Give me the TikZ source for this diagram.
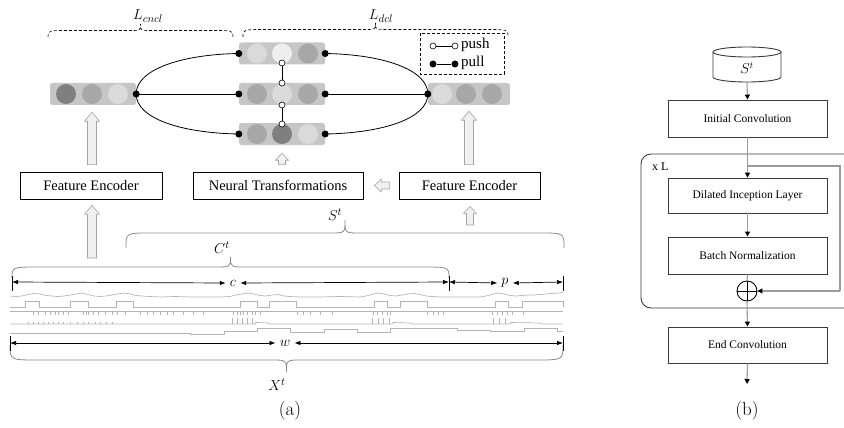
\documentclass[tikz,border=0pt]{standalone}
\usepackage{fontspec}
\newfontfamily\tnr{Liberation Serif}
\usetikzlibrary{arrows.meta,calc}

\definecolor{vecbg}{HTML}{C6C6C6}
\definecolor{cdark}{HTML}{7F7F7F}
\definecolor{cmid}{HTML}{A7A7A7}
\definecolor{clight}{HTML}{DADADA}
\definecolor{cxlight}{HTML}{EEEEEE}
\definecolor{arrfill}{HTML}{F0F0F0}
\definecolor{arrline}{HTML}{A4A4A4}
\definecolor{tsgray}{HTML}{B4B4B4}
\definecolor{bracegray}{HTML}{8A8A8A}
\definecolor{boxline}{HTML}{3A3A3A}
\definecolor{flowgray}{HTML}{9A9A9A}

% curly brace: #2 left x, #3 middle x, #4 right x, #5 end y, #6 level y, #7 tip y, #8 end radius, #9 tip radius
\newcommand{\bracecurve}[9]{%
  \draw[#1] (#2,#5) .. controls (#2,#6) .. ({#2+#8},#6) -- ({#3-#9},#6)
    .. controls (#3,#6) .. (#3,#7) .. controls (#3,#6) .. ({#3+#9},#6)
    -- ({#4-#8},#6) .. controls (#4,#6) .. (#4,#5);}

% hollow upward block arrow: #1 tip point, #2 tail point, #3 shaft half width, #4 head half width, #5 head length
\newcommand{\blockup}[5]{%
  \draw[blk] let \p1=#1, \p2=#2 in
    (\x1,\y1) -- (\x1+#4pt,\y1-#5pt) -- (\x1+#3pt,\y1-#5pt) -- (\x1+#3pt,\y2)
    -- (\x1-#3pt,\y2) -- (\x1-#3pt,\y1-#5pt) -- (\x1-#4pt,\y1-#5pt) -- cycle;}

% hollow leftward block arrow
\newcommand{\blockleft}[5]{%
  \draw[blk] let \p1=#1, \p2=#2 in
    (\x1,\y1) -- (\x1+#5pt,\y1+#4pt) -- (\x1+#5pt,\y1+#3pt) -- (\x2,\y1+#3pt)
    -- (\x2,\y1-#3pt) -- (\x1+#5pt,\y1-#3pt) -- (\x1+#5pt,\y1-#4pt) -- cycle;}

\begin{document}
\begin{tikzpicture}[x=1pt,y=-1pt,
  fbox/.style={draw=black, line width=0.8pt, fill=white, inner sep=0pt,
    minimum height=27pt, font=\tnr\fontsize{14.5}{17}\selectfont},
  bbox/.style={draw=boxline, line width=0.9pt, fill=white, inner sep=0pt,
    minimum width=159pt, font=\tnr\fontsize{11.5}{14}\selectfont},
  vecbar/.style={fill=vecbg, rounded corners=2.5pt, minimum height=22pt, inner sep=0pt},
  cell/.style={circle, inner sep=0pt, minimum size=20pt},
  pulldot/.style={circle, fill=black, inner sep=0pt, minimum size=7pt},
  pushdot/.style={circle, draw=black, fill=white, line width=0.6pt, inner sep=0pt, minimum size=6pt},
  link/.style={draw=black, line width=0.8pt},
  blk/.style={fill=arrfill, draw=arrline, line width=0.6pt},
  ts/.style={draw=tsgray, line width=0.7pt},
  gbrace/.style={draw=bracegray, line width=0.8pt},
  dbrace/.style={draw=black, line width=0.6pt, densely dashed},
  meas/.style={draw=black, line width=0.7pt,
    {Latex[length=6pt,width=4.5pt]}-{Latex[length=6pt,width=4.5pt]}},
  mtick/.style={draw=black, line width=0.8pt},
  mlab/.style={inner sep=4pt, font=\fontsize{15}{17}\selectfont},
  blab/.style={inner sep=0pt, font=\fontsize{15.5}{18}\selectfont},
  flow/.style={draw=flowgray, line width=1.1pt,
    -{Triangle[length=5pt,width=5pt,color=black]}},
  flowplain/.style={draw=flowgray, line width=1.1pt},
  caption/.style={font=\fontsize{19}{22}\selectfont}
]
\useasboundingbox (0,0) rectangle (844,428);

% ================= panel (a) =================

% loss braces
\bracecurve{dbrace}{48}{140.5}{233}{37}{30.5}{24}{20}{10}
\bracecurve{dbrace}{243}{375.5}{508}{37}{29.5}{23}{22}{10}
\node[blab] (lcncl) at (148,16) {$L_{cncl}$};
\node[blab] (ldcl) at (381,16) {$L_{dcl}$};

% legend
\draw[black, line width=0.7pt, densely dashed] (420,33) rectangle (504,74);
\node[pushdot] (lg1) at (433,46) {};
\node[pushdot] (lg2) at (455,46) {};
\node[pulldot] (lg3) at (433,64) {};
\node[pulldot] (lg4) at (455,64) {};
\draw[link] (lg1) -- (lg2);
\draw[link] (lg3) -- (lg4);
\node[anchor=west, inner sep=0pt, font=\tnr\fontsize{15}{17}\selectfont] (lgpush) at (461,45) {push};
\node[anchor=west, inner sep=0pt, font=\tnr\fontsize{15}{17}\selectfont] (lgpull) at (461,63) {pull};

% feature vectors
\node[vecbar, minimum width=86pt] (lv) at (93,94) {};
\node[vecbar, minimum width=86pt] (mt) at (282,53.5) {};
\node[vecbar, minimum width=86pt] (mm) at (282,94) {};
\node[vecbar, minimum width=86pt] (mb) at (282,134) {};
\node[vecbar, minimum width=82pt] (rv) at (469,94) {};

% pull connections
\draw[link] (lv.east) .. controls (136,70) and (180,54.5) .. (mt.west);
\draw[link] (lv.east) -- (mm.west);
\draw[link] (lv.east) .. controls (136,118) and (180,133) .. (mb.west);
\draw[link] (mt.east) .. controls (384,54.5) and (428,70) .. (rv.west);
\draw[link] (mm.east) -- (rv.west);
\draw[link] (mb.east) .. controls (384,133) and (428,118) .. (rv.west);

% cells
\node[cell, fill=cdark]   (l1) at (66,94) {};
\node[cell, fill=cmid]    (l2) at (92,94) {};
\node[cell, fill=clight]  (l3) at (118,94) {};
\node[cell, fill=clight]  (t1) at (257,53.5) {};
\node[cell, fill=cxlight] (t2) at (282,53.5) {};
\node[cell, fill=cmid]    (t3) at (308,53.5) {};
\node[cell, fill=cmid]    (m1) at (257,94) {};
\node[cell, fill=clight]  (m2) at (282,94) {};
\node[cell, fill=cmid]    (m3) at (308,94) {};
\node[cell, fill=cmid]    (b1) at (257,134) {};
\node[cell, fill=cdark]   (b2) at (282,134) {};
\node[cell, fill=clight]  (b3) at (308,134) {};
\node[cell, fill=clight]  (r1) at (442,94) {};
\node[cell, fill=cmid]    (r2) at (466,94) {};
\node[cell, fill=cmid]    (r3) at (492,94) {};

% pull end points
\node[pulldot] (d1) at (lv.east) {};
\node[pulldot] (d2) at (mt.west) {};
\node[pulldot] (d3) at (mm.west) {};
\node[pulldot] (d4) at (mb.west) {};
\node[pulldot] (d5) at (mt.east) {};
\node[pulldot] (d6) at (mm.east) {};
\node[pulldot] (d7) at (mb.east) {};
\node[pulldot] (d8) at (rv.west) {};

% push links between transformed views
\node[pushdot] (p1) at (282,63) {};
\node[pushdot] (p2) at (282,83) {};
\node[pushdot] (p3) at (282,105) {};
\node[pushdot] (p4) at (282,124) {};
\draw[link] (p1) -- (p2);
\draw[link] (p3) -- (p4);

% encoders
\node[fbox, minimum width=142pt] (fe1) at (91,185.5) {Feature Encoder};
\node[fbox, minimum width=170pt] (nt) at (278,185.5) {Neural Transformations};
\node[fbox, minimum width=141pt] (fe2) at (469.5,185.5) {Feature Encoder};

% block arrows
\coordinate (ctail) at (92,258);
\coordinate (stail) at (470,225);
\blockup{($(lv.south)+(-1,7)$)}{($(fe1.north)+(0,-7)$)}{4.5}{7.5}{9}
\blockup{($(rv.south)+(0,6)$)}{($(fe2.north)+(0,-7)$)}{4.5}{7.5}{9}
\blockup{($(mb.south)+(0,8)$)}{($(nt.north)+(4,-7)$)}{3.5}{6.5}{7}
\blockup{($(fe1.south)+(1,6)$)}{(ctail)}{4.5}{7.5}{9}
\blockup{($(fe2.south)+(0.5,7)$)}{(stail)}{3.5}{6.5}{7}
\blockleft{($(nt.east)+(11,0)$)}{($(fe2.west)+(-9,0)$)}{3.5}{6.5}{7}

% window braces
\bracecurve{gbrace}{126}{345}{564}{248}{233}{220}{24}{14}
\bracecurve{gbrace}{12}{230.5}{449}{278}{267}{257}{28}{15}
\bracecurve{gbrace}{10}{286.5}{563}{345}{360}{372}{28}{15}
\node[blab] (slab) at (335,215) {$S^t$};
\node[blab] (clab) at (222,248) {$C^t$};
\node[blab] (xlab) at (277,385) {$X^t$};

% c and p measures
\coordinate (ca) at (12,282);
\coordinate (cb) at (449,282);
\coordinate (cc) at (563,282);
\draw[mtick] (12,276) -- (12,291);
\draw[mtick] (449,276) -- (449,291);
\draw[mtick] (563,276) -- (563,291);
\node[mlab] (cl) at (233,283) {$c$};
\node[mlab] (pl) at (505,283) {$p$};
\draw[meas] (ca) -- (cl.west);
\draw[meas] (cl.east) -- (cb);
\draw[meas] (cb) -- (pl.west);
\draw[meas] (pl.east) -- (cc);

% w measure
\coordinate (wa) at (10,343);
\coordinate (wb) at (563,343);
\draw[mtick] (10,336) -- (10,351);
\draw[mtick] (563,336) -- (563,351);
\node[mlab] (wl) at (285,343) {$w$};
\draw[meas] (wa) -- (wl.west);
\draw[meas] (wl.east) -- (wb);

% multivariate series
\draw[ts] (10,297) -- (16,296.5) -- (22,296) -- (28,294.5) -- (34,293.5) -- (40,294) -- (46,295.5)
  -- (52,296) -- (58,296.5) -- (64,296) -- (70,295) -- (76,294) -- (82,293) -- (88,294.5)
  -- (94,296) -- (100,296.5) -- (106,296) -- (112,295) -- (118,294) -- (124,293) -- (130,294)
  -- (136,295.5) -- (142,296) -- (150,296.5) -- (160,297) -- (175,296.5) -- (190,297)
  -- (205,297) -- (220,297) -- (230,296.5) -- (236,295) -- (242,294) -- (248,293)
  -- (254,294) -- (260,295.5) -- (266,296) -- (272,295) -- (278,294.5) -- (284,296)
  -- (290,296.5) -- (300,297) -- (320,297) -- (340,296.5) -- (360,297) -- (366,296)
  -- (372,294.5) -- (378,293) -- (384,294) -- (390,295.5) -- (396,296) -- (402,295)
  -- (408,294) -- (414,293.5) -- (420,294.5) -- (426,296) -- (432,296.5) -- (440,297)
  -- (460,297) -- (480,297) -- (486,296) -- (492,294.5) -- (498,293) -- (504,294)
  -- (510,295.5) -- (516,296) -- (522,295.5) -- (528,295) -- (534,295) -- (540,294.5)
  -- (546,294) -- (552,293.5) -- (558,293) -- (563,292.5);
\draw[ts] (10,307) -- (25,307) -- (25,301) -- (39,301) -- (39,307) -- (70,307) -- (70,301)
  -- (88,301) -- (88,307) -- (116,307) -- (116,301) -- (133,301) -- (133,307) -- (240,307)
  -- (240,301) -- (257,301) -- (257,307) -- (269,307) -- (269,301) -- (296,301) -- (296,307)
  -- (374,307) -- (374,301) -- (387,301) -- (387,307) -- (400,307) -- (400,301) -- (427,301)
  -- (427,307) -- (495,307) -- (495,301) -- (508,301) -- (508,307) -- (522,307) -- (522,301)
  -- (563,301) -- (563,307);
\draw[ts] (10,311) -- (563,311);
\foreach \x in {33,38,45,50,55,58,63,68,83,86,88,93,98,105,112,117,125,140,147,153,160,167,
  173,183,193,203,233,237,240,243,247,252,255,260,297,303,310,320,332,373,377,382,387,390,
  427,433,438,443,492,497,502,507,512,523}
  \draw[ts] (\x,311) -- (\x,315);
\draw[ts] (10,324) -- (255,324) -- (256,322.5) -- (268,323) -- (270,324) -- (392,324)
  -- (393,322.5) -- (410,323) -- (412,324) -- (510,324) -- (511,322.5) -- (540,323)
  -- (542,324) -- (563,324);
\foreach \x in {28,33,38,43,48,53,58,63,70,77,83,88,95,100,106,112}
  \draw[ts] (\x,324) -- (\x,321.5);
\foreach \x in {232,237,242,247,252,372,378,383,389,493,499,505}
  \draw[ts] (\x,324) -- (\x,318);
\draw[ts] (10,333) -- (190,333) -- (190,334) -- (224,334) -- (224,331) -- (257,331)
  -- (257,328) -- (290,328) -- (290,332) -- (324,332) -- (324,329) -- (357,329) -- (357,332)
  -- (390,332) -- (390,328) -- (457,328) -- (457,330) -- (490,330) -- (490,331) -- (524,331)
  -- (524,328) -- (557,328) -- (557,331) -- (563,331);

\node[caption] (capa) at (290,411) {(a)};

% ================= panel (b) =================

% stacked block frame (open to the right)
\draw[boxline, line width=0.9pt, rounded corners=10pt]
  (844,154) -- (641,154) -- (641,308) -- (844,308);
\node[anchor=west, inner sep=0pt, font=\tnr\fontsize{12}{14}\selectfont] (xl) at (652,167) {x L};

% input store
\node[minimum width=68pt, minimum height=35pt, inner sep=0pt] (st) at (747,64.5) {};
\draw[boxline, line width=0.9pt, fill=white]
  (713,52) -- (713,77) arc[start angle=180, end angle=0, x radius=34, y radius=5] -- (781,52);
\draw[boxline, line width=0.9pt, fill=white] (747,52) ellipse[x radius=34, y radius=5];
\node[blab, font=\fontsize{13.5}{15}\selectfont] (stl) at (747,68) {$S^t$};

\node[bbox, minimum height=37pt] (ic) at (747.5,118.5) {Initial Convolution};
\node[bbox, minimum height=35pt] (dil) at (747.5,195.5) {Dilated Inception Layer};
\node[bbox, minimum height=37pt] (bn) at (747.5,255.5) {Batch Normalization};
\node[circle, draw=black, line width=0.9pt, minimum size=20pt, inner sep=0pt] (op) at (747,291) {};
\draw[black, line width=0.9pt] (op.north) -- (op.south) (op.west) -- (op.east);
\node[bbox, minimum height=36pt] (ec) at (747.5,345) {End Convolution};

\coordinate (br) at (747,166);
\coordinate (rc1) at (840,166);
\coordinate (rc2) at (840,291);
\coordinate (out) at (747,384);

\draw[flow] (747,82) -- (ic.north);
\draw[flow] (ic.south) -- (dil.north);
\draw[flowplain] (br) -- (rc1) -- (rc2);
\draw[flow] (rc2) -- (op.east);
\draw[flow] (dil.south) -- (bn.north);
\draw[flowplain] (bn.south) -- (op.north);
\draw[flow] (op.south) -- (ec.north);
\draw[flow] (ec.south) -- (out);

\node[caption] (capb) at (747,411) {(b)};
\end{tikzpicture}
\end{document}
